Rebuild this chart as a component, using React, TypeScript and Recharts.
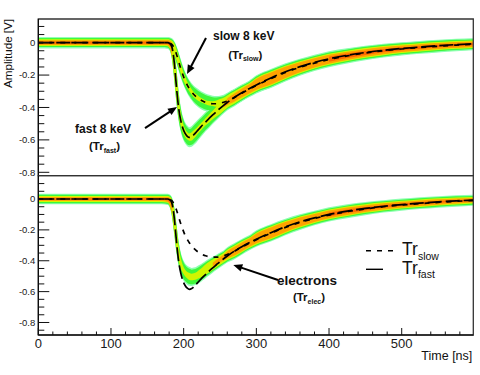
import React from 'react';
import {
  ComposedChart,
  Area,
  Line,
  XAxis,
  YAxis,
  ReferenceLine,
  ReferenceDot,
  ReferenceArea,
  Legend,
} from 'recharts';

// ---------------- data ----------------
const TIME_NS = [0, 30, 60, 90, 120, 150, 170, 178, 181, 184, 187, 190, 193, 196, 199, 202, 205, 208, 211, 214, 218, 222, 226, 230, 235, 240, 245, 250, 255, 260, 270, 280, 290, 300, 320, 340, 360, 380, 400, 425, 450, 475, 500, 525, 550, 575, 598];

const TR_FAST = [0, 0, 0, 0, 0, 0, 0, 0,
  -0.006, -0.03, -0.12, -0.27, -0.4, -0.48, -0.53, -0.56, -0.578, -0.585,
  -0.58, -0.568, -0.548, -0.528, -0.508, -0.49, -0.467, -0.446, -0.426, -0.406,
  -0.387, -0.369, -0.337, -0.309, -0.284, -0.261, -0.218, -0.18, -0.148, -0.122,
  -0.1, -0.078, -0.061, -0.047, -0.036, -0.027, -0.019, -0.012, -0.007];

const TR_SLOW = [0, 0, 0, 0, 0, 0, 0, 0,
  -0.003, -0.012, -0.035, -0.07, -0.115, -0.16, -0.2, -0.235, -0.262, -0.285,
  -0.304, -0.32, -0.337, -0.35, -0.36, -0.368, -0.374, -0.377, -0.377, -0.374,
  -0.368, -0.36, -0.338, -0.312, -0.287, -0.264, -0.222, -0.184, -0.152, -0.126,
  -0.104, -0.082, -0.064, -0.05, -0.039, -0.03, -0.022, -0.015, -0.01];

const ELECTRONS = [0, 0, 0, 0, 0, 0, 0, 0,
  -0.01, -0.04, -0.13, -0.26, -0.36, -0.42, -0.46, -0.482, -0.495, -0.503,
  -0.506, -0.504, -0.497, -0.485, -0.472, -0.458, -0.441, -0.425, -0.41, -0.395,
  -0.38, -0.366, -0.338, -0.309, -0.284, -0.261, -0.218, -0.18, -0.148, -0.122,
  -0.1, -0.078, -0.061, -0.047, -0.036, -0.027, -0.019, -0.012, -0.007];

// histogram spread (half-width, V) and density level (0..4) along each band
const TOP_SLOW_SPREAD = [0.034, 0.034, 0.034, 0.034, 0.034, 0.034, 0.034, 0.034,
  0.034, 0.034, 0.034, 0.034, 0.034, 0.035, 0.036, 0.038, 0.04, 0.042,
  0.044, 0.046, 0.048, 0.05, 0.051, 0.051, 0.05, 0.048, 0.046, 0.044,
  0.042, 0.04, 0.039, 0.038, 0.038, 0.038, 0.037, 0.037, 0.036, 0.036,
  0.036, 0.035, 0.035, 0.035, 0.034, 0.034, 0.034, 0.034, 0.034];
const TOP_SLOW_HEAT = [4, 4, 4, 4, 4, 4, 4, 4,
  3.4, 2.6, 2, 1.7, 1.5, 1.4, 1.3, 1.3, 1.3, 1.3,
  1.3, 1.3, 1.3, 1.3, 1.3, 1.3, 1.4, 1.5, 1.7, 1.9,
  2.1, 2.3, 2.6, 2.8, 2.9, 3, 3.1, 3.2, 3.3, 3.3,
  3.4, 3.4, 3.5, 3.5, 3.6, 3.6, 3.6, 3.6, 3.6];
const TOP_FAST_SPREAD = [0.034, 0.034, 0.034, 0.034, 0.034, 0.034, 0.034, 0.034,
  0.034, 0.035, 0.036, 0.038, 0.041, 0.045, 0.05, 0.054, 0.058, 0.06,
  0.06, 0.058, 0.056, 0.054, 0.052, 0.05, 0.048, 0.046, 0.044, 0.042,
  0.041, 0.04, 0.039, 0.038, 0.038, 0.038, 0.037, 0.037, 0.036, 0.036,
  0.036, 0.035, 0.035, 0.035, 0.034, 0.034, 0.034, 0.034, 0.034];
const TOP_FAST_HEAT = [4, 4, 4, 4, 4, 4, 4, 4,
  3.4, 2.6, 1.9, 1.6, 1.4, 1.3, 1.3, 1.4, 1.5, 1.6,
  1.6, 1.5, 1.4, 1.4, 1.4, 1.4, 1.5, 1.6, 1.8, 2,
  2.2, 2.4, 2.6, 2.8, 2.9, 3, 3.1, 3.2, 3.3, 3.3,
  3.4, 3.4, 3.5, 3.5, 3.6, 3.6, 3.6, 3.6, 3.6];
const ELEC_SPREAD = [0.034, 0.034, 0.034, 0.034, 0.034, 0.034, 0.034, 0.034,
  0.034, 0.035, 0.036, 0.038, 0.041, 0.045, 0.05, 0.054, 0.056, 0.058,
  0.058, 0.056, 0.054, 0.052, 0.05, 0.048, 0.046, 0.044, 0.042, 0.041,
  0.04, 0.039, 0.038, 0.038, 0.037, 0.037, 0.036, 0.036, 0.036, 0.035,
  0.035, 0.035, 0.035, 0.034, 0.034, 0.034, 0.034, 0.034, 0.034];
const ELEC_HEAT = [4, 4, 4, 4, 4, 4, 4, 4,
  3.4, 2.6, 1.9, 1.6, 1.4, 1.3, 1.3, 1.4, 1.5, 1.6,
  1.6, 1.6, 1.6, 1.7, 1.8, 1.9, 2.1, 2.3, 2.5, 2.6,
  2.7, 2.8, 2.9, 3, 3.1, 3.1, 3.2, 3.2, 3.3, 3.3,
  3.4, 3.4, 3.5, 3.5, 3.5, 3.6, 3.6, 3.6, 3.6];

// ticks
const X_TICKS = [0, 20, 40, 60, 80, 100, 120, 140, 160, 180, 200, 220, 240, 260, 280, 300, 320, 340, 360, 380, 400, 420, 440, 460, 480, 500, 520, 540, 560, 580];
const X_LABELS = [0, 100, 200, 300, 400, 500];
const TOP_Y_TICKS = [0.1, 0.05, 0, -0.05, -0.1, -0.15, -0.2, -0.25, -0.3, -0.35, -0.4, -0.45, -0.5, -0.55, -0.6, -0.65, -0.7, -0.75, -0.8];
const BOTTOM_Y_TICKS = [0.1, 0.05, 0, -0.05, -0.1, -0.15, -0.2, -0.25, -0.3, -0.35, -0.4, -0.45, -0.5, -0.55, -0.6, -0.65, -0.7, -0.75, -0.8, -0.85];
const Y_LABELS = [0, -0.2, -0.4, -0.6, -0.8];

const X_DOMAIN: [number, number] = [0, 598.5];
const TOP_Y_DOMAIN: [number, number] = [-0.821, 0.146];
const BOTTOM_Y_DOMAIN: [number, number] = [-0.881, 0.151];

// ---------------- style ----------------
const FONT = '"Liberation Sans", Arial, Helvetica, sans-serif';
const LAYER_FILL = ['#8dffb0', '#3ef73a', '#d2f500', '#ffa200', '#ff6a00'];
const LAYER_SHARE = [1, 0.8, 0.58, 0.4, 0.15];
const TICK_MARGIN = 3;
const SLOW_DASH = '5 6';
const FAST_DASH = '14 4';
const LEGEND_ORDER = ['slow', 'fast'];

function bandRange(center: number[], spread: number[], heat: number[], k: number) {
  return center.map((c, i) => {
    const share = k === 0 ? 1 : Math.max(0, Math.min(1, heat[i] - (k - 1)));
    const w = LAYER_SHARE[k] * spread[i] * share;
    if (w < 0.002) return null;
    const a = i > 0 ? (center[i - 1] + c) / 2 : c;
    const b = i < center.length - 1 ? (center[i + 1] + c) / 2 : c;
    return [Math.min(a, c, b) - w, Math.max(a, c, b) + w];
  });
}

const LAYERS = [0, 1, 2, 3, 4];
const ROWS = TIME_NS.map((t, i) => {
  const row: any = { t, fast: TR_FAST[i], slow: TR_SLOW[i] };
  return row;
});
LAYERS.forEach((k) => {
  const s = bandRange(TR_SLOW, TOP_SLOW_SPREAD, TOP_SLOW_HEAT, k);
  const f = bandRange(TR_FAST, TOP_FAST_SPREAD, TOP_FAST_HEAT, k);
  const e = bandRange(ELECTRONS, ELEC_SPREAD, ELEC_HEAT, k);
  ROWS.forEach((row, i) => {
    row['s' + k] = s[i];
    row['f' + k] = f[i];
    row['e' + k] = e[i];
  });
});

// annotations (data coordinates)
const TOP_NOTES = [
  { t: 240.4, v: 0.016, main: 'slow 8 keV' },
  { t: 50.6, v: -0.557, main: 'fast 8 keV' },
];
const TOP_SUBNOTES = [
  { t: 261.3, v: -0.1, main: '(Tr', sub: 'slow' },
  { t: 69.8, v: -0.663, main: '(Tr', sub: 'fast' },
];
const TOP_ARROWS = [
  { from: { x: 230.7, y: 0.029 }, to: { x: 204.6, y: -0.194 } },
  { from: { x: 146.8, y: -0.527 }, to: { x: 190.8, y: -0.397 } },
];
const BOTTOM_NOTES = [{ t: 328.3, v: -0.557, main: 'electrons' }];
const BOTTOM_SUBNOTES = [{ t: 350.3, v: -0.661, main: '(Tr', sub: 'elec' }];
const BOTTOM_ARROWS = [{ from: { x: 329.8, y: -0.525 }, to: { x: 268.3, y: -0.427 } }];
const LEGEND_TEXT: Record<string, string> = { slow: 'slow', fast: 'fast' };

// ---------------- renderers ----------------
function YTick(props: any) {
  const { x, y, payload } = props;
  const v = payload.value;
  const major = Y_LABELS.some((l) => Math.abs(l - v) < 1e-6);
  const ax = x + TICK_MARGIN;
  return (
    <g>
      <line x1={ax} x2={ax + (major ? 11 : 6)} y1={y} y2={y} stroke="#111" strokeWidth={1} />
      {major && (
        <text x={x} y={y} dy="0.35em" textAnchor="end" fontSize={9.5} fontFamily={FONT} fill="#1a1a1a">
          {String(v)}
        </text>
      )}
    </g>
  );
}

function XTick(props: any) {
  const { x, y, payload } = props;
  const v = payload.value;
  const major = X_LABELS.includes(v);
  const ay = y - TICK_MARGIN;
  return (
    <g>
      <line x1={x} x2={x} y1={ay} y2={ay - (major ? 7 : 3.5)} stroke="#111" strokeWidth={1} />
      {major && (
        <text x={x} y={ay + 12.5} textAnchor="middle" fontSize={13} fontFamily={FONT} fill="#1a1a1a">
          {String(v)}
        </text>
      )}
    </g>
  );
}

function Arrow(props: any) {
  const { x1, y1, x2, y2 } = props;
  const dx = x2 - x1;
  const dy = y2 - y1;
  const len = Math.hypot(dx, dy) || 1;
  const ux = dx / len;
  const uy = dy / len;
  const hl = 9;
  const hw = 3.8;
  const bx = x2 - ux * hl;
  const by = y2 - uy * hl;
  const pts = `${x2},${y2} ${bx - uy * hw},${by + ux * hw} ${bx + uy * hw},${by - ux * hw}`;
  return (
    <g>
      <line x1={x1} y1={y1} x2={bx + ux * 1.5} y2={by + uy * 1.5} stroke="#000" strokeWidth={2} />
      <polygon points={pts} fill="#000" />
    </g>
  );
}

function noteShape(main: string, size: number) {
  return (p: any) => (
    <text x={p.cx} y={p.cy} fontSize={size} fontWeight="bold" fontFamily={FONT} fill="#111">
      {main}
    </text>
  );
}

function subNoteShape(main: string, sub: string) {
  return (p: any) => (
    <text x={p.cx} y={p.cy} fontWeight="bold" fontFamily={FONT} fill="#111">
      <tspan fontSize={11.5}>{main}</tspan>
      <tspan fontSize={7} dy={2.5}>{sub}</tspan>
      <tspan fontSize={11.5} dy={-2.5}>)</tspan>
    </text>
  );
}

function AmplitudeLabel(p: any) {
  const vb = p.viewBox || { x: 0, y: 19 };
  const X = vb.x + 12;
  const Y = vb.y;
  return (
    <text x={X} y={Y} transform={`rotate(-90, ${X}, ${Y})`} textAnchor="end" fontSize={11.6} fontFamily={FONT} fill="#111">
      Amplitude [V]
    </text>
  );
}

function TimeLabel(p: any) {
  const vb = p.viewBox || { x: 38, y: 335, width: 435 };
  return (
    <text x={vb.x + vb.width - 1} y={vb.y + 25} textAnchor="end" fontSize={12.5} fontFamily={FONT} fill="#111">
      Time [ns]
    </text>
  );
}

function LegendBox(props: any) {
  const payload = (props.payload || [])
    .filter((e: any) => LEGEND_TEXT[e.dataKey])
    .sort((a: any, b: any) => LEGEND_ORDER.indexOf(a.dataKey) - LEGEND_ORDER.indexOf(b.dataKey));
  return (
    <svg width={115} height={45} style={{ display: 'block', overflow: 'visible' }}>
      {payload.map((e: any, i: number) => {
        const y0 = 12.7 + i * 18.6;
        const dashed = e.dataKey === 'slow';
        return (
          <g key={e.dataKey}>
            <line x1={6} x2={dashed ? 35 : 23} y1={y0} y2={y0} stroke="#000" strokeWidth={1.4} strokeDasharray={dashed ? SLOW_DASH : undefined} />
            <text x={42} y={y0 + 4.5} fontFamily={FONT} fill="#111">
              <tspan fontSize={17.5}>Tr</tspan>
              <tspan fontSize={10.5} dy={4.3}>{LEGEND_TEXT[e.dataKey]}</tspan>
            </text>
          </g>
        );
      })}
    </svg>
  );
}

function bandAreas(prefixes: string[]) {
  const out: any[] = [];
  LAYERS.forEach((k) => {
    prefixes.forEach((p) => {
      out.push(
        <Area
          key={p + k}
          dataKey={p + k}
          type="monotone"
          stroke="none"
          fill={LAYER_FILL[k]}
          fillOpacity={1}
          isAnimationActive={false}
          legendType="none"
          dot={false}
          activeDot={false}
          connectNulls={false}
        />
      );
    });
  });
  return out;
}

function modelLines() {
  return [
    <Line key="slow" dataKey="slow" name="slow" type="monotone" stroke="#000" strokeWidth={1.7} strokeDasharray={SLOW_DASH} dot={false} activeDot={false} isAnimationActive={false} />,
    <Line key="fast" dataKey="fast" name="fast" type="monotone" stroke="#000" strokeWidth={1.7} strokeDasharray={FAST_DASH} dot={false} activeDot={false} isAnimationActive={false} />,
  ];
}

function TopChart() {
  return (
    <ComposedChart width={480} height={375} data={ROWS} margin={{ top: 19, right: 6.7, bottom: 199.3, left: 0 }}>
      <XAxis dataKey="t" type="number" domain={X_DOMAIN} allowDataOverflow hide />
      <YAxis
        type="number"
        domain={TOP_Y_DOMAIN}
        allowDataOverflow
        width={38.3}
        ticks={TOP_Y_TICKS}
        interval={0}
        tickSize={0}
        tickMargin={TICK_MARGIN}
        tick={YTick}
        tickLine={false}
        axisLine={{ stroke: '#000' }}
        label={AmplitudeLabel}
      />
      {bandAreas(['s', 'f'])}
      {modelLines()}
      <ReferenceArea x1={X_DOMAIN[0]} x2={X_DOMAIN[1]} y1={TOP_Y_DOMAIN[0]} y2={TOP_Y_DOMAIN[1]} fill="none" fillOpacity={0} stroke="#333" strokeWidth={1.3} ifOverflow="visible" />
      {TOP_ARROWS.map((a, i) => (
        <ReferenceLine key={'ta' + i} segment={[a.from, a.to]} shape={Arrow} ifOverflow="visible" />
      ))}
      {TOP_NOTES.map((n, i) => (
        <ReferenceDot key={'tn' + i} x={n.t} y={n.v} r={0} ifOverflow="visible" shape={noteShape(n.main, 12)} />
      ))}
      {TOP_SUBNOTES.map((n, i) => (
        <ReferenceDot key={'ts' + i} x={n.t} y={n.v} r={0} ifOverflow="visible" shape={subNoteShape(n.main, n.sub)} />
      ))}
    </ComposedChart>
  );
}

function BottomChart() {
  return (
    <ComposedChart width={480} height={375} data={ROWS} margin={{ top: 175.7, right: 6.7, bottom: 0, left: 0 }}>
      <XAxis
        dataKey="t"
        type="number"
        domain={X_DOMAIN}
        allowDataOverflow
        ticks={X_TICKS}
        interval={0}
        height={40}
        tickSize={0}
        tickMargin={TICK_MARGIN}
        tick={XTick}
        tickLine={false}
        axisLine={{ stroke: '#000' }}
        label={TimeLabel}
      />
      <YAxis
        type="number"
        domain={BOTTOM_Y_DOMAIN}
        allowDataOverflow
        width={38.3}
        ticks={BOTTOM_Y_TICKS}
        interval={0}
        tickSize={0}
        tickMargin={TICK_MARGIN}
        tick={YTick}
        tickLine={false}
        axisLine={{ stroke: '#000' }}
      />
      {bandAreas(['e'])}
      {modelLines()}
      <ReferenceArea x1={X_DOMAIN[0]} x2={X_DOMAIN[1]} y1={BOTTOM_Y_DOMAIN[0]} y2={BOTTOM_Y_DOMAIN[1]} fill="none" fillOpacity={0} stroke="#333" strokeWidth={1.3} ifOverflow="visible" />
      {BOTTOM_ARROWS.map((a, i) => (
        <ReferenceLine key={'ba' + i} segment={[a.from, a.to]} shape={Arrow} ifOverflow="visible" />
      ))}
      {BOTTOM_NOTES.map((n, i) => (
        <ReferenceDot key={'bn' + i} x={n.t} y={n.v} r={0} ifOverflow="visible" shape={noteShape(n.main, 13.5)} />
      ))}
      {BOTTOM_SUBNOTES.map((n, i) => (
        <ReferenceDot key={'bs' + i} x={n.t} y={n.v} r={0} ifOverflow="visible" shape={subNoteShape(n.main, n.sub)} />
      ))}
      <Legend
        layout="vertical"
        align="center"
        verticalAlign="middle"
        content={LegendBox}
        wrapperStyle={{ left: 360, top: 238, width: 115, height: 45 }}
      />
    </ComposedChart>
  );
}

export default function App() {
  return (
    <div style={{ position: 'relative', width: 480, height: 375, background: '#fff', overflow: 'hidden' }}>
      <style>{'body{margin:0;}'}</style>
      <div style={{ position: 'absolute', left: 0, top: 0 }}>
        <TopChart />
      </div>
      <div style={{ position: 'absolute', left: 0, top: 0 }}>
        <BottomChart />
      </div>
    </div>
  );
}
